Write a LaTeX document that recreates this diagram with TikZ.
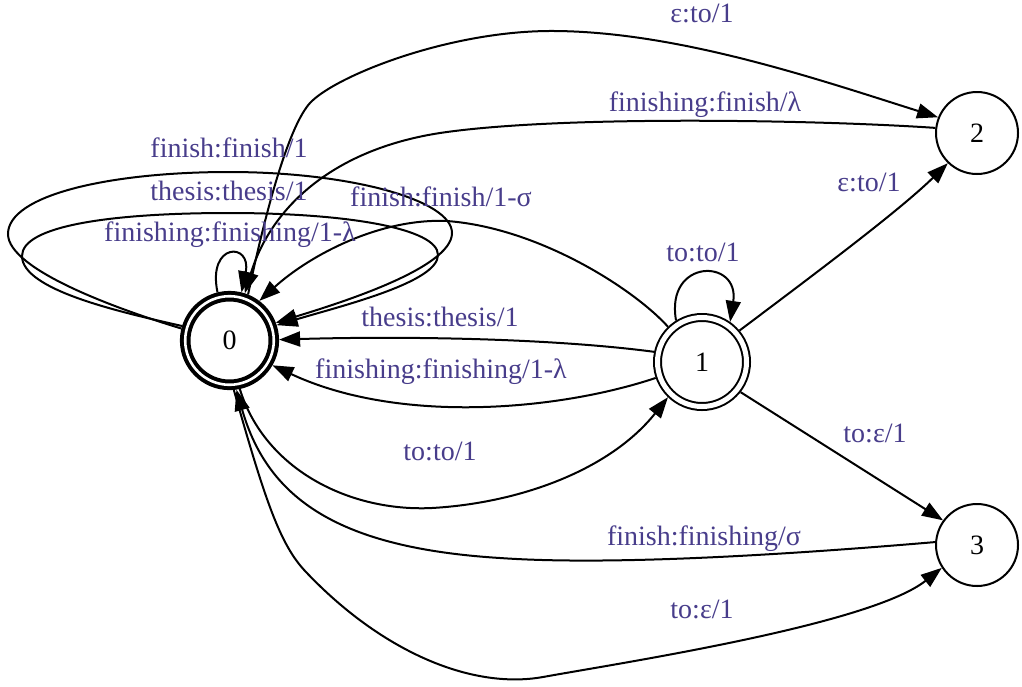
\documentclass[tikz,border=0pt]{standalone}
\usepackage{fontspec}
\setmainfont{Liberation Serif}
\usetikzlibrary{arrows.meta}
\definecolor{arclabel}{RGB}{72,61,139}

\begin{document}
\begin{tikzpicture}[x=0.5pt, y=-0.5pt,
    font=\fontsize{14}{16}\selectfont,
    st/.style={circle, draw, line width=1pt, minimum size=41pt, inner sep=0pt, outer sep=0.5pt},
    fin/.style={circle, draw, line width=1pt, double, double distance=2.5pt, minimum size=44.5pt, inner sep=0pt, outer sep=2.25pt},
    startfin/.style={fin, line width=2pt, double distance=1.3pt, minimum size=44.3pt, outer sep=2.65pt},
    trans/.style={-{Triangle[length=10.5pt,width=7.5pt]}, line width=1pt},
    lbl/.style={text=arclabel, inner sep=0pt, text height=10pt, text depth=3pt}
]
\useasboundingbox (0,0) rectangle (1022,686);

% states
\node[startfin] (s0) at (229.5,340.5) {0};
\node[fin] (s1) at (702,362) {1};
\node[st] (s2) at (977,133) {2};
\node[st] (s3) at (977,545) {3};

% loops on 0
\draw[trans] (s0.104) .. controls (207,242) and (252,242) .. (s0.76);
\draw[trans] (s0.163) .. controls (120,312) and (22,290) .. (22,256)
    .. controls (22,226) and (110,213) .. (229,213)
    .. controls (345,213) and (438,228) .. (438,255)
    .. controls (438,282) and (345,305) .. (s0.18);
\draw[trans] (s0.166) .. controls (120,310) and (8,270) .. (8,234)
    .. controls (8,195) and (110,172) .. (229,172)
    .. controls (350,172) and (452,200) .. (452,233)
    .. controls (452,268) and (340,303) .. (s0.21);

% 0 -> 2, 2 -> 0
\draw[trans] (s0.68) .. controls (268,200) and (290,125) .. (310,103)
    .. controls (335,76) and (450,30) .. (555,31)
    .. controls (680,32) and (820,80) .. (s2.158);
\draw[trans] (s2.173) .. controls (820,120) and (560,115) .. (440,133)
    .. controls (330,150) and (270,210) .. (s0.72);

% 1 -> 0
\draw[trans] (s1.134) .. controls (635,290) and (540,228) .. (447,221)
    .. controls (380,218) and (310,255) .. (s0.53);
\draw[trans] (s1.168) .. controls (550,338) and (400,336) .. (s0.1);
\draw[trans] (s1.199) .. controls (560,410) and (400,425) .. (s0.-30);

% 0 -> 1
\draw[trans] (s0.-78) .. controls (265,470) and (350,512) .. (432,508)
    .. controls (520,503) and (610,470) .. (s1.-134);
\draw[trans] (s1.122) .. controls (665,258) and (740,258) .. (s1.55);

% 1 -> 2, 1 -> 3
\draw[trans] (s1.40) .. controls (820,270) and (900,210) .. (s2.226);
\draw[trans] (s1.-38) -- (s3.144);

% 3 -> 0, 0 -> 3
\draw[trans] (s3.176) .. controls (760,557) and (600,565) .. (500,558)
    .. controls (340,548) and (268,500) .. (s0.-82);
\draw[trans] (s0.-85) .. controls (265,500) and (280,545) .. (306,572)
    .. controls (380,650) and (470,690) .. (543,677)
    .. controls (620,663) and (870,625) .. (s3.213);

% labels
\node[lbl] (l0) at (702,15) {ε:to/1};
\node[lbl] (l1) at (705,104) {finishing:finish/λ};
\node[lbl] (l2) at (229,150) {finish:finish/1};
\node[lbl] (l3) at (229,193) {thesis:thesis/1};
\node[lbl] (l4) at (230,234) {finishing:finishing/1-λ};
\node[lbl] (l5) at (441,199) {finish:finish/1-σ};
\node[lbl] (l6) at (869,184) {ε:to/1};
\node[lbl] (l7) at (703,254) {to:to/1};
\node[lbl] (l8) at (440,319) {thesis:thesis/1};
\node[lbl] (l9) at (441,371) {finishing:finishing/1-λ};
\node[lbl] (l10) at (440,453) {to:to/1};
\node[lbl] (l11) at (875,435) {to:ε/1};
\node[lbl] (l12) at (704,538) {finish:finishing/σ};
\node[lbl] (l13) at (702,611) {to:ε/1};
\end{tikzpicture}
\end{document}
